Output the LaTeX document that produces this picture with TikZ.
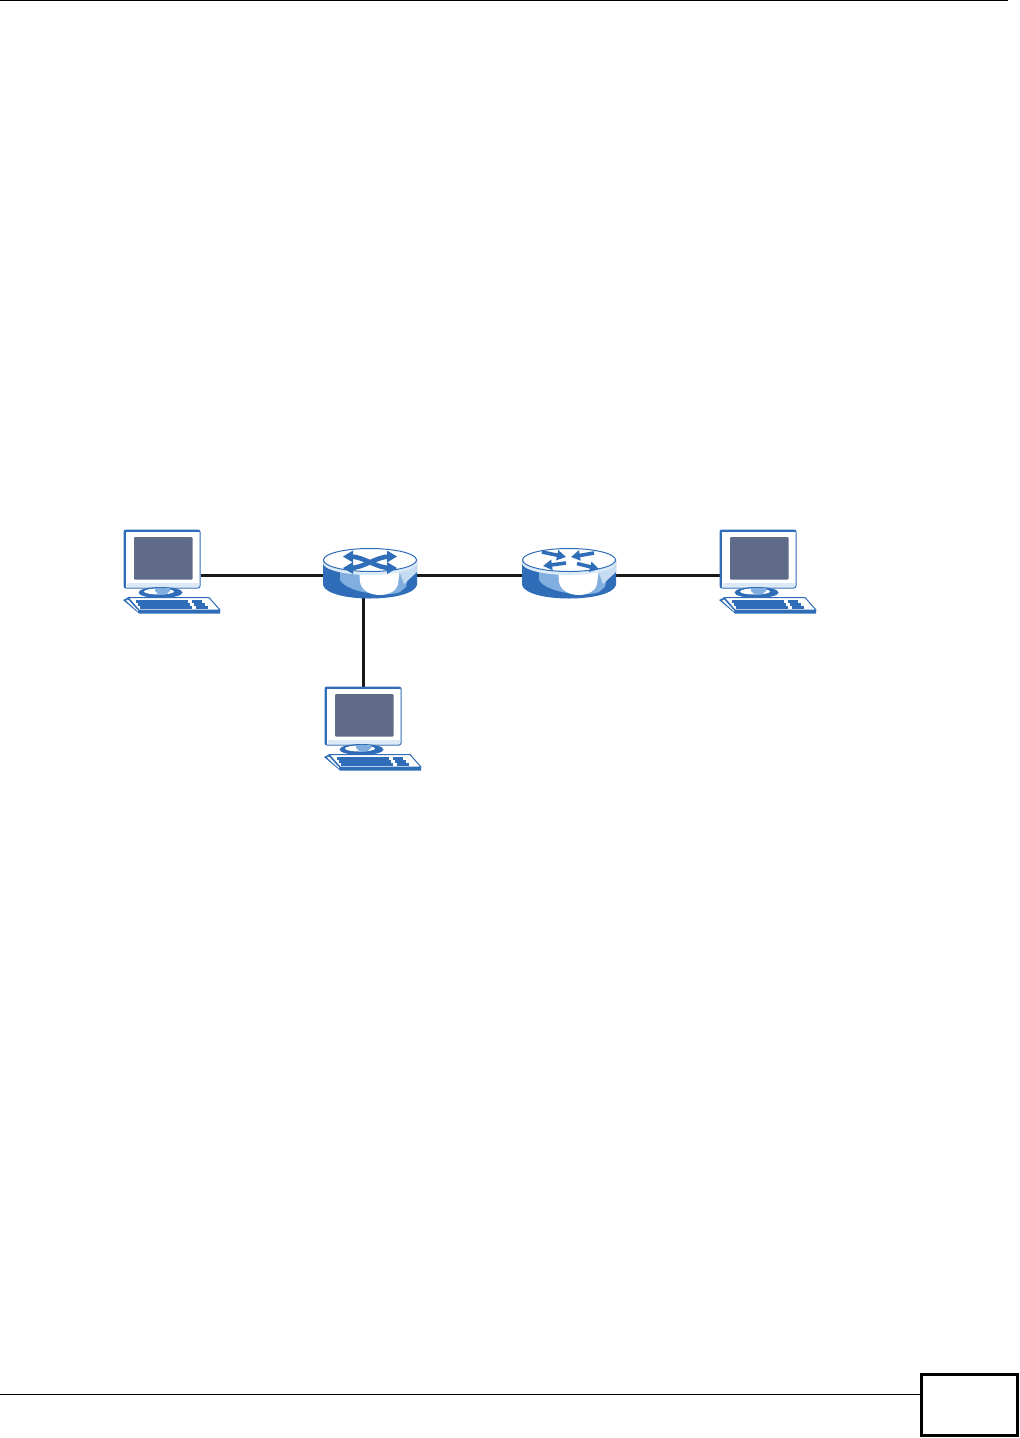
\documentclass[tikz,border=0pt]{standalone}
\usetikzlibrary{arrows.meta}
\definecolor{iconblue}{HTML}{2F6DB8}
\definecolor{iconlight}{HTML}{7FAEDF}
\definecolor{iconpale}{HTML}{DCE9F7}
\definecolor{screengrey}{HTML}{5F6B88}
\tikzset{
  frame/.style={draw=black,line width=1pt},
  link/.style={draw=black!90,line width=3pt},
  slot/.style={draw=none,inner sep=0pt,outer sep=0pt,minimum width=#1},
  pcslot/.style={slot=77pt,minimum height=58pt},
  routerslot/.style={slot=94pt,minimum height=46pt},
  pics/computer/.style={code={
    % monitor (origin = monitor centre)
    \fill[white,draw=iconblue,line width=1pt,rounded corners=2pt] (-38,-29) rectangle (38,29);
    \draw[iconblue,line width=2.4pt,line cap=round] (-37,-28) -- (37,-28);
    \draw[iconblue,line width=2.4pt,line cap=round] (-37,-28) -- (-37,28);
    \fill[iconpale] (-35.5,24) rectangle (37,28);
    \fill[screengrey,rounded corners=1pt] (-28,-22) rectangle (30.5,20.5);
    % stand
    \fill[iconblue] (-1.5,33.5) ellipse [x radius=22pt,y radius=5.5pt];
    \fill[white] (-3,32.5) ellipse [x radius=15pt,y radius=3pt];
    \fill[iconlight] (-7,29) -- (8,29) -- (8,32) .. controls (6,37) and (-5,37) .. (-7,32) -- cycle;
    % keyboard
    \fill[white,draw=iconblue,line width=1pt,line join=round]
      (-34,38.5) -- (47,38.5) -- (58,51) -- (-23,51) -- cycle;
    \fill[iconblue] (-39,41) -- (-34,38.5) -- (-23,51) -- (58,51) -- (58,54.5) -- (-23,54.5) -- cycle;
    \fill[white] (-36,41.5) -- (-34,40.5) -- (-24,51.5) -- (-24,52.5) -- cycle;
    \foreach \yy/\xa/\xb in {42.5/-26/26,45.5/-24/28,48.5/-22/30}{
      \draw[iconblue,line width=2.2pt] (\xa,\yy) -- (\xb,\yy);}
    \foreach \yy/\xa/\xb in {42.5/30/40,45.5/32/43,48.5/34/46}{
      \draw[iconblue,line width=2.2pt] (\xa,\yy) -- (\xb,\yy);}
  }},
  pics/routerbody/.style={code={
    % origin = centre of the top ellipse
    \fill[iconblue] (-47,-1) -- (-47,25) .. controls (-42,43) and (42,43) .. (47,25) -- (47,-1) -- cycle;
    \fill[iconlight] (-30,8) -- (-30,20) .. controls (-22,34) and (20,37) .. (30,32) -- (36,27) -- (40,8) -- cycle;
    \fill[iconlight!45!white] (28,8) -- (47,2) -- (47,12) -- (34,24) -- cycle;
    \fill[white] (-11,8) -- (-10,22) .. controls (-7,39) and (25,39) .. (28,24) -- (30,8) -- cycle;
    \fill[iconpale] (0,3) ellipse [x radius=47pt,y radius=12pt];
    \fill[white,draw=iconblue,line width=1pt] (0,0) ellipse [x radius=46.5pt,y radius=11.5pt];
  }},
  pics/switchmark/.style={code={
    \draw[iconblue,line width=4.6pt] (-20,-5.5) .. controls (-6,-5.5) and (6,6) .. (20,6);
    \draw[iconblue,line width=4.6pt] (20,-5.5) .. controls (6,-5.5) and (-6,6) .. (-20,6);
    \foreach \xx/\yy/\dd in {-27/-5.5/1,27/-5.5/-1,-27/6/1,27/6/-1}{
      \fill[iconblue] (\xx,\yy) -- (\xx+\dd*10,\yy-6) -- (\xx+\dd*10,\yy+6) -- cycle;}
  }},
  arrowmark/.style={-{Triangle[width=10pt,length=9pt]},iconblue,line width=3.6pt},
  pics/routermark/.style={code={
    \draw[arrowmark] (-27,-8) -- (-3,-3);
    \draw[arrowmark] (25,-7) -- (2,-3);
    \draw[arrowmark] (-3,3) -- (-26,6);
    \draw[arrowmark] (8,3.5) -- (30,9);
  }}
}
\begin{document}
\begin{tikzpicture}[x=1pt,y=-1pt]
\useasboundingbox (0,0) rectangle (1020,1438);
\fill[white] (0,0) rectangle (1020,1438);
% page furniture
\coordinate (topa) at (0,0.6);
\coordinate (topb) at (1008,0.6);
\draw[frame] (topa) -- (topb);
\node[draw=black,line width=3pt,fill=white,minimum width=96pt,minimum height=61pt,inner sep=0pt] (pagebox) at (969.5,1405) {};
\coordinate (footl) at (0,1394);
\draw[frame] (footl) -- (footl -| pagebox.west);
% device slots
\node[pcslot] (pc1) at (162,559) {};
\node[routerslot] (r1) at (370,575) {};
\node[routerslot] (r2) at (569,575) {};
\node[pcslot] (pc2) at (758,559) {};
\node[pcslot] (pc3) at (363,716) {};
% links
\draw[link] (pc1.east |- r1.west) -- (r1.west);
\draw[link] (r1.east) -- (r2.west);
\draw[link] (r2.east) -- (pc2.west |- r2.east);
\draw[link] (r1.south -| pc3.north) -- (pc3.north);
% icons
\pic at (pc1) {computer};
\pic at (pc2) {computer};
\pic at (pc3) {computer};
\pic at (370,560) {routerbody};
\pic at (370,562) {switchmark};
\pic at (569,560) {routerbody};
\pic at (569,560) {routermark};
\end{tikzpicture}
\end{document}
